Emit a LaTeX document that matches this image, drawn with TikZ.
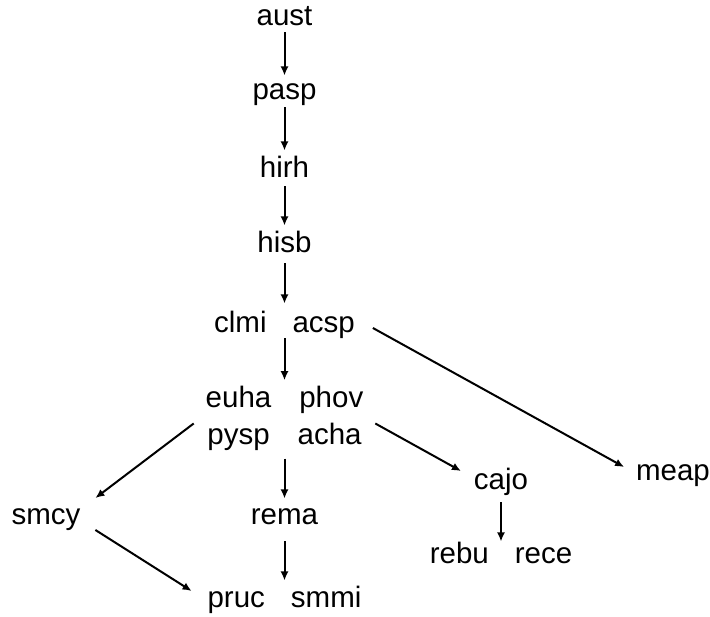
\documentclass[tikz,border=0pt]{standalone}
\usepackage{fontspec}
\setmainfont{Liberation Sans}
\usetikzlibrary{arrows.meta}
\begin{document}
\begin{tikzpicture}[x=1pt,y=1pt,
  lbl/.style={inner sep=0pt,outer sep=0pt,font=\fontsize{29.5}{37}\selectfont,text height=21pt,text depth=6pt},
  lbl2/.style={inner sep=0pt,outer sep=0pt,font=\fontsize{29.5}{37}\selectfont,align=center},
  arr/.style={-{Latex[length=9pt,width=8pt]},line width=2pt}]
\useasboundingbox (0,0) rectangle (710,617);
\node[lbl] (aust) at (284.5,599) {aust};
\node[lbl] (pasp) at (284.5,525) {pasp};
\node[lbl] (hirh) at (284.5,447) {hirh};
\node[lbl] (hisb) at (284.5,372) {hisb};
\node[lbl] (cl) at (284.5,292) {clmi\hspace{26pt}acsp};
\node[lbl2] (ep) at (284.5,198.5) {euha\hspace{28pt}phov\\pysp\hspace{28pt}acha};
\node[lbl] (sm) at (46,100) {smcy};
\node[lbl] (rema) at (284.5,100) {rema};
\node[lbl] (pr) at (284.5,17) {pruc\hspace{26pt}smmi};
\node[lbl] (cajo) at (501,135) {cajo};
\node[lbl] (meap) at (673,144) {meap};
\node[lbl] (rr) at (501,61) {rebu\hspace{26pt}rece};
\draw[arr,shorten <=1pt,shorten >=3pt] (aust) -- (pasp);
\draw[arr,shorten <=2pt,shorten >=6pt] (pasp) -- (hirh);
\draw[arr,shorten <=3pt,shorten >=6pt] (hirh) -- (hisb);
\draw[arr,shorten <=5pt,shorten >=8pt] (hisb) -- (cl);
\draw[arr,shorten <=0pt,shorten >=6pt] (cl) -- (ep);
\draw[arr] ([xshift=18pt,yshift=-3pt]cl.east) -- ([xshift=-12pt,yshift=6pt]meap.west);
\draw[arr] ([xshift=-12pt,yshift=-5pt]ep.west) -- ([xshift=15pt,yshift=5.5pt]sm.north east);
\draw[arr] ([xshift=15pt,yshift=-13pt]sm.east) -- ([xshift=-16pt,yshift=9pt]pr.west);
\draw[arr] ([xshift=12pt,yshift=-5pt]ep.east) -- ([xshift=-13pt,yshift=11pt]cajo.west);
\draw[arr,shorten <=7pt,shorten >=1pt] (cajo) -- (rr);
\draw[arr,shorten <=8pt,shorten >=5pt] (ep) -- (rema);
\draw[arr,shorten <=11pt,shorten >=6pt] (rema) -- (pr);
\end{tikzpicture}
\end{document}
